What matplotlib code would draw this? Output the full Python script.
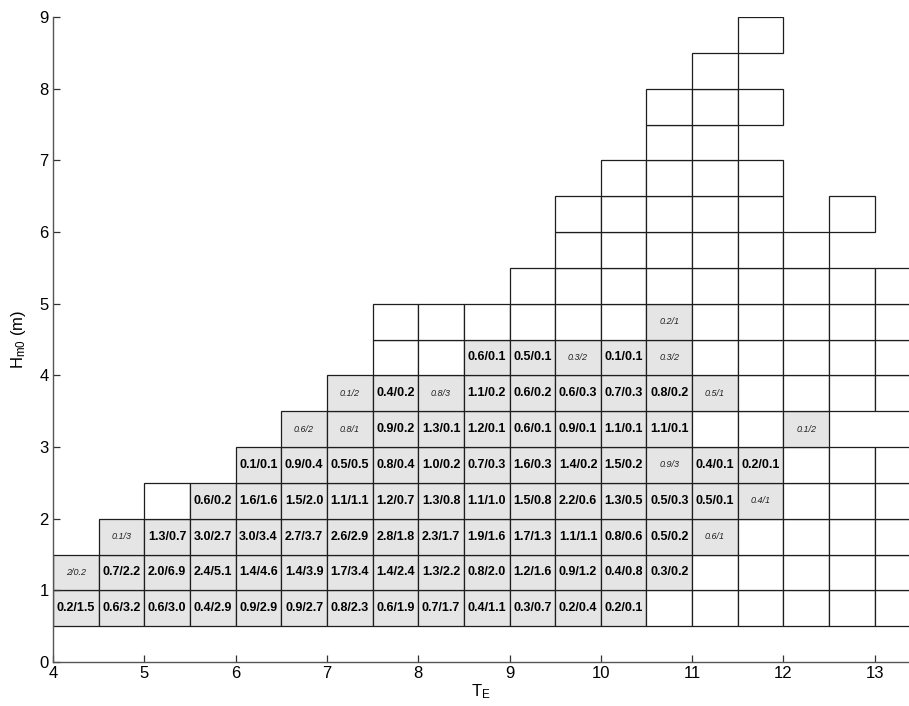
import matplotlib
matplotlib.use('Agg')
import matplotlib.pyplot as plt
from matplotlib.patches import Rectangle

# bin size of the scatter table
dT = 0.5
dH = 0.5

# lower H_m0 edge of every row and the T_E where that row starts
row_h = [0.5, 1.0, 1.5, 2.0, 2.5, 3.0, 3.5, 4.0, 4.5, 5.0, 5.5, 6.0, 6.5, 7.0, 7.5, 8.0, 8.5]
row_t0 = [4.0, 4.0, 4.5, 5.0, 6.0, 6.5, 7.0, 7.5, 7.5, 9.0, 9.5, 9.5, 10.0, 10.5, 10.5, 11.0, 11.5]

# cell texts, left to right: '' = empty outlined bin, None = no bin
row_cells = [
    ['0.2/1.5', '0.6/3.2', '0.6/3.0', '0.4/2.9', '0.9/2.9', '0.9/2.7', '0.8/2.3', '0.6/1.9',
     '0.7/1.7', '0.4/1.1', '0.3/0.7', '0.2/0.4', '0.2/0.1', '', '', '', '', '', ''],
    ['2/0.2', '0.7/2.2', '2.0/6.9', '2.4/5.1', '1.4/4.6', '1.4/3.9', '1.7/3.4', '1.4/2.4',
     '1.3/2.2', '0.8/2.0', '1.2/1.6', '0.9/1.2', '0.4/0.8', '0.3/0.2', '', '', '', '', ''],
    ['0.1/3', '1.3/0.7', '3.0/2.7', '3.0/3.4', '2.7/3.7', '2.6/2.9', '2.8/1.8', '2.3/1.7',
     '1.9/1.6', '1.7/1.3', '1.1/1.1', '0.8/0.6', '0.5/0.2', '0.6/1', '', '', '', ''],
    ['', '0.6/0.2', '1.6/1.6', '1.5/2.0', '1.1/1.1', '1.2/0.7', '1.3/0.8', '1.1/1.0',
     '1.5/0.8', '2.2/0.6', '1.3/0.5', '0.5/0.3', '0.5/0.1', '0.4/1', '', '', ''],
    ['0.1/0.1', '0.9/0.4', '0.5/0.5', '0.8/0.4', '1.0/0.2', '0.7/0.3', '1.6/0.3', '1.4/0.2',
     '1.5/0.2', '0.9/3', '0.4/0.1', '0.2/0.1', '', '', ''],
    ['0.6/2', '0.8/1', '0.9/0.2', '1.3/0.1', '1.2/0.1', '0.6/0.1', '0.9/0.1', '1.1/0.1',
     '1.1/0.1', '', '', '0.1/2'],
    ['0.1/2', '0.4/0.2', '0.8/3', '1.1/0.2', '0.6/0.2', '0.6/0.3', '0.7/0.3', '0.8/0.2',
     '0.5/1', '', '', '', ''],
    ['', '', '0.6/0.1', '0.5/0.1', '0.3/2', '0.1/0.1', '0.3/2', '', '', '', '', ''],
    ['', '', '', '', '', '', '0.2/1', '', '', '', '', ''],
    ['', '', '', '', '', '', '', '', ''],
    ['', '', '', '', '', ''],
    ['', '', '', '', '', None, ''],
    ['', '', '', ''],
    ['', ''],
    ['', '', ''],
    [''],
    [''],
]

plt.rcParams['font.family'] = ['Liberation Sans', 'DejaVu Sans']
plt.rcParams['mathtext.fontset'] = 'custom'
plt.rcParams['mathtext.rm'] = 'Liberation Sans'
plt.rcParams['mathtext.it'] = 'Liberation Sans:italic'

fig = plt.figure(figsize=(9.09, 7.06), dpi=100)
ax = fig.add_axes([53 / 909, 44 / 706, 1 - 53 / 909, 645 / 706])

for h, t0, cells in zip(row_h, row_t0, row_cells):
    for i, label in enumerate(cells):
        if label is None:
            continue
        t = t0 + i * dT
        face = '#e5e5e5' if label else 'white'
        ax.add_patch(Rectangle((t, h), dT, dH, facecolor=face, edgecolor='#1e1e1e',
                               linewidth=0.9, zorder=1))
        if not label:
            continue
        # bins with only a few counts are written small and in italics
        if label.count('.') < 2:
            ax.text(t + dT / 2, h + dH / 2, label, ha='center', va='center', fontsize=6.5,
                    fontstyle='italic', color='#222222', zorder=2)
        else:
            ax.text(t + dT / 2, h + dH / 2, label, ha='center', va='center', fontsize=9,
                    fontweight='bold', zorder=2)

ax.set_xlim(4, 13.375)
ax.set_ylim(0, 9)
ax.set_xticks(range(4, 14))
ax.set_yticks(range(0, 10))
ax.spines['top'].set_visible(False)
ax.spines['right'].set_visible(False)
for s in ['left', 'bottom']:
    ax.spines[s].set_color('#555555')
    ax.spines[s].set_linewidth(1.0)
ax.tick_params(direction='in', length=5, width=0.9, color='#333333', labelsize=12, pad=3)

ax.set_xlabel(r'T$_{\rm E}$', fontsize=12, labelpad=1)
ax.set_ylabel(r'H$_{\rm m0}$ (m)', fontsize=12, labelpad=8)

fig.savefig('out.png', dpi=100)
